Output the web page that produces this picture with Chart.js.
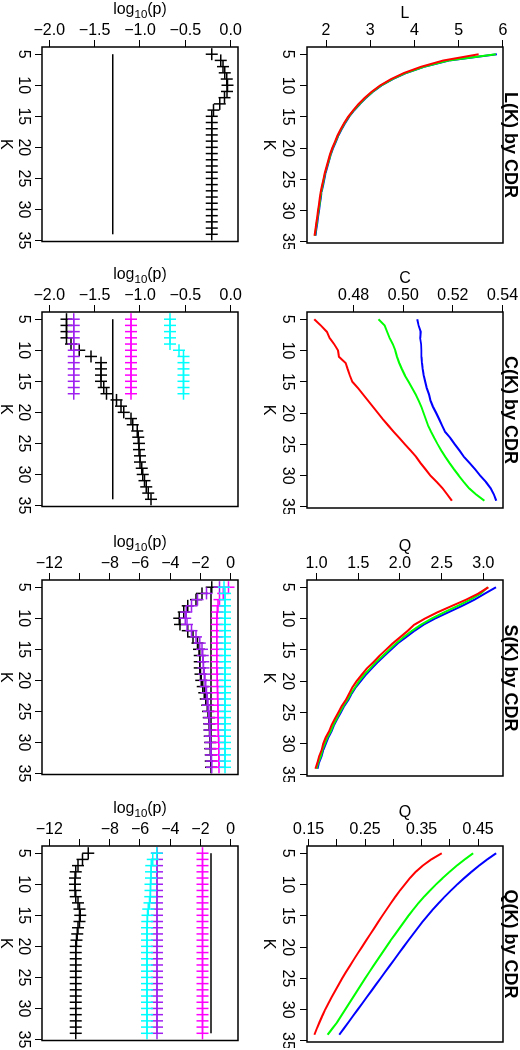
<!DOCTYPE html>
<html><head><meta charset="utf-8">
<script src="https://cdn.jsdelivr.net/npm/chart.js@4"></script>
<style>
html,body{margin:0;padding:0;background:#fff;overflow:hidden;width:520px;height:1050px;}
#fig{position:absolute;left:0;top:0;width:1050px;height:520px;transform-origin:0 0;transform:translate(520px,0) rotate(90deg);background:#fff;}
#fig canvas{position:absolute;}
</style></head><body><div id="fig"></div>
<script>
// ---------- data ----------
const K = [5,6,7,8,9,10,11,12,13,14,15,16,17,18,19,20,21,22,23,24,25,26,27,28,29,30,31,32,33,34];
const K_short = [5,6,7,8,9,10,11,12,13,14,15,16,17];
const kTicks = [5,10,15,20,25,30,35];
const kTickLabels = ['5','10','15','20','25','30','35'];
const threshold = -1.301;

// L(K)
const L_red   = [5.45,4.65,4.15,3.76,3.46,3.22,3.03,2.87,2.73,2.61,2.50,2.41,2.33,2.26,2.20,2.14,2.09,2.05,2.01,1.97,1.94,1.91,1.88,1.86,1.84,1.82,1.80,1.78,1.76,1.74];
const L_green = [5.84,4.76,4.21,3.80,3.49,3.24,3.05,2.89,2.75,2.62,2.51,2.42,2.34,2.27,2.21,2.15,2.10,2.06,2.02,1.98,1.95,1.92,1.89,1.87,1.85,1.83,1.81,1.79,1.77,1.75];
const L_blue  = [5.86,4.78,4.22,3.81,3.50,3.25,3.06,2.90,2.76,2.63,2.52,2.43,2.35,2.28,2.22,2.16,2.11,2.07,2.03,1.99,1.96,1.93,1.90,1.88,1.86,1.84,1.82,1.80,1.78,1.76];
const lTicks = [2,3,4,5,6];
const lTickLabels = ['2','3','4','5','6'];

// C(K)
const C_red   = [0.4641,0.4668,0.4692,0.4703,0.4722,0.4737,0.4741,0.4768,0.4776,0.4785,0.4795,0.4818,0.4838,0.4858,0.4878,0.4898,0.4918,0.4940,0.4962,0.4985,0.5007,0.5030,0.5052,0.5070,0.5090,0.5110,0.5135,0.5158,0.5177,0.5196];
const C_green = [0.4900,0.4925,0.4935,0.4945,0.4958,0.4968,0.4975,0.4984,0.4995,0.5007,0.5022,0.5036,0.5050,0.5062,0.5073,0.5082,0.5091,0.5100,0.5112,0.5125,0.5139,0.5154,0.5170,0.5187,0.5205,0.5224,0.5244,0.5265,0.5294,0.5327];
const C_blue  = [0.5056,0.5062,0.5070,0.5068,0.5072,0.5073,0.5074,0.5076,0.5079,0.5083,0.5089,0.5095,0.5104,0.5110,0.5120,0.5133,0.5145,0.5157,0.5169,0.5190,0.5208,0.5227,0.5245,0.5268,0.5290,0.5310,0.5333,0.5352,0.5365,0.5375];
const cTicks = [0.48,0.50,0.52,0.54];
const cTickLabels = ['0.48','0.50','0.52','0.54'];

// S(K)
const S_red   = [3.06,2.94,2.79,2.62,2.45,2.30,2.17,2.09,2.00,1.91,1.83,1.75,1.68,1.60,1.54,1.48,1.43,1.39,1.35,1.30,1.26,1.22,1.18,1.15,1.11,1.08,1.06,1.03,1.01,0.985];
const S_green = [3.05,2.97,2.84,2.69,2.53,2.38,2.25,2.14,2.04,1.95,1.87,1.79,1.71,1.64,1.57,1.51,1.46,1.41,1.37,1.32,1.28,1.24,1.20,1.17,1.13,1.10,1.07,1.05,1.02,1.00];
const S_blue  = [3.15,3.02,2.89,2.74,2.58,2.42,2.28,2.17,2.07,1.97,1.89,1.81,1.73,1.66,1.59,1.53,1.47,1.42,1.38,1.33,1.29,1.25,1.21,1.18,1.14,1.11,1.08,1.06,1.03,1.01];
const sTicks = [1.0,1.5,2.0,2.5,3.0];
const sTickLabels = ['1.0','1.5','2.0','2.5','3.0'];

// Q(K)
const Q_red   = [0.3854,0.3668,0.3515,0.3392,0.3290,0.3200,0.3112,0.3030,0.2952,0.2877,0.2803,0.2730,0.2658,0.2585,0.2513,0.2441,0.2369,0.2298,0.2228,0.2160,0.2093,0.2028,0.1966,0.1906,0.1848,0.1792,0.1740,0.1692,0.1645,0.1601];
const Q_green = [0.4412,0.4260,0.4120,0.3990,0.3868,0.3752,0.3642,0.3538,0.3440,0.3350,0.3265,0.3185,0.3105,0.3025,0.2945,0.2870,0.2795,0.2720,0.2645,0.2572,0.2500,0.2428,0.2357,0.2286,0.2215,0.2145,0.2075,0.2005,0.1920,0.1835];
const Q_blue  = [0.4818,0.4658,0.4512,0.4378,0.4250,0.4128,0.4012,0.3902,0.3797,0.3697,0.3602,0.3512,0.3425,0.3341,0.3258,0.3176,0.3095,0.3014,0.2933,0.2852,0.2771,0.2690,0.2609,0.2528,0.2447,0.2366,0.2285,0.2204,0.2123,0.2042];
const qTicks = [0.15,0.20,0.25,0.30,0.35,0.40,0.45];
const qTickLabels = ['0.15','','0.25','','0.35','','0.45'];

// log10(p) panels
const pTicksA = [-2.0,-1.5,-1.0,-0.5,0.0];
const pTickLabelsA = ['\u22122.0','\u22121.5','\u22121.0','\u22120.5','0.0'];
const pTicksB = [-12,-10,-8,-6,-4,-2,0];
const pTickLabelsB = ['\u221212','','\u22128','\u22126','\u22124','\u22122','0'];

const pL_black = [-0.21,-0.11,-0.085,-0.065,-0.045,-0.035,-0.04,-0.07,-0.12,-0.19,-0.21,-0.21,-0.21,-0.21,-0.21,-0.21,-0.21,-0.21,-0.21,-0.21,-0.21,-0.21,-0.21,-0.21,-0.21,-0.21,-0.21,-0.21,-0.21,-0.21];

const pC_black   = [-1.81,-1.81,-1.81,-1.81,-1.76,-1.67,-1.54,-1.43,-1.43,-1.43,-1.43,-1.40,-1.37,-1.26,-1.21,-1.18,-1.10,-1.08,-1.03,-1.02,-1.01,-1.01,-1.00,-1.00,-0.98,-0.97,-0.95,-0.93,-0.91,-0.88];
const pC_purple  = [-1.73,-1.73,-1.73,-1.73,-1.73,-1.73,-1.73,-1.73,-1.73,-1.73,-1.73,-1.73,-1.73];
const pC_magenta = [-1.10,-1.10,-1.10,-1.10,-1.10,-1.10,-1.10,-1.10,-1.10,-1.10,-1.10,-1.10,-1.10];
const pC_cyan    = [-0.67,-0.67,-0.67,-0.67,-0.67,-0.57,-0.52,-0.52,-0.52,-0.52,-0.52,-0.52,-0.52];

const pS_black   = [-1.25,-1.90,-2.30,-2.85,-3.10,-3.40,-3.35,-2.85,-2.50,-2.20,-2.10,-2.05,-2.05,-2.05,-2.00,-1.95,-1.85,-1.75,-1.65,-1.55,-1.50,-1.45,-1.42,-1.40,-1.38,-1.36,-1.35,-1.33,-1.32,-1.31];
const pS_purple  = [-0.75,-1.60,-2.20,-2.60,-2.95,-3.00,-2.90,-2.60,-2.30,-2.05,-1.90,-1.85,-1.82,-1.80,-1.75,-1.70,-1.65,-1.60,-1.55,-1.50,-1.45,-1.42,-1.40,-1.38,-1.36,-1.34,-1.32,-1.30,-1.28,-1.26];
const pS_magenta = [-0.15,-0.50,-0.75,-0.85,-0.90,-0.92,-0.92,-0.92,-0.92,-0.92,-0.92,-0.92,-0.92,-0.92,-0.90,-0.90,-0.88,-0.88,-0.86,-0.86,-0.85,-0.84,-0.83,-0.82,-0.81,-0.80,-0.80,-0.79,-0.78,-0.77];
const pS_cyan    = [-0.45,-0.38,-0.38,-0.38,-0.38,-0.38,-0.38,-0.38,-0.38,-0.38,-0.38,-0.38,-0.38,-0.38,-0.38,-0.38,-0.38,-0.38,-0.38,-0.38,-0.38,-0.38,-0.38,-0.38,-0.38,-0.38,-0.38,-0.38,-0.38,-0.38];

const pQ_black   = [-9.43,-9.80,-10.10,-10.25,-10.30,-10.30,-10.30,-10.25,-10.10,-10.00,-9.95,-10.00,-10.10,-10.15,-10.20,-10.25,-10.25,-10.25,-10.25,-10.25,-10.25,-10.25,-10.25,-10.25,-10.25,-10.25,-10.25,-10.25,-10.25,-10.25];
const pQ_purple  = [-4.87,-4.87,-4.87,-4.87,-4.87,-4.87,-4.87,-4.87,-4.87,-4.87,-4.87,-4.87,-4.87,-4.87,-4.87,-4.87,-4.87,-4.87,-4.87,-4.87,-4.87,-4.87,-4.87,-4.87,-4.87,-4.87,-4.87,-4.87,-4.87,-4.87];
const pQ_magenta = [-1.86,-1.86,-1.86,-1.86,-1.86,-1.86,-1.86,-1.86,-1.86,-1.86,-1.86,-1.86,-1.86,-1.86,-1.86,-1.86,-1.86,-1.86,-1.86,-1.86,-1.86,-1.86,-1.86,-1.86,-1.86,-1.86,-1.86,-1.86,-1.86,-1.86];
const pQ_cyan    = [-4.90,-5.15,-5.25,-5.28,-5.28,-5.30,-5.30,-5.32,-5.38,-5.45,-5.50,-5.52,-5.53,-5.53,-5.53,-5.53,-5.53,-5.53,-5.53,-5.53,-5.53,-5.53,-5.53,-5.53,-5.53,-5.53,-5.53,-5.53,-5.53,-5.53];

// ---------- drawing ----------
const FONT = '"Liberation Sans", Arial, Helvetica, sans-serif';
const TICKFONT = '16px ' + FONT, LABFONT = '16px ' + FONT, SUBFONT = '11.5px ' + FONT;
const RED='#FF0000', GREEN='#00FF00', BLUE='#0000FF', BLACK='#000000', PURPLE='#A020F0', MAGENTA='#FF00FF', CYAN='#00FFFF';
const fig = document.getElementById('fig');
const BOX = 196, PADL = 60, PADT = 17, PADR = 6, XAXH = 45;

function pts(ks, vs){ return vs.map((v,i)=>({x:ks[i], y:v})); }
function lineDS(ks, vs, color){ return {data:pts(ks,vs), showLine:true, borderColor:color, borderWidth:2, pointRadius:0, fill:false, tension:0}; }
function crossDS(ks, vs, color){ return {data:pts(ks,vs), showLine:false, pointStyle:'cross', pointRadius:6, pointBorderWidth:1.5, borderColor:color, backgroundColor:color}; }
function threshDS(){ return {data:[{x:K[0],y:threshold},{x:K[K.length-1],y:threshold}], showLine:true, borderColor:BLACK, borderWidth:1.5, pointRadius:0}; }

const textPlugin = {
  id:'rtext',
  afterDraw(chart){
    const ctx = chart.ctx, ca = chart.chartArea, xs = chart.scales.x, ys = chart.scales.y;
    const P = chart.options.plugins.rtext;
    ctx.save();
    ctx.fillStyle = '#000'; ctx.strokeStyle = '#000';
    ctx.lineWidth = 1.5;
    ctx.strokeRect(ca.left, ca.top, ca.right-ca.left, ca.bottom-ca.top);
    ctx.font = TICKFONT; ctx.textAlign='center'; ctx.textBaseline='alphabetic';
    kTicks.forEach((v,i)=>{ ctx.fillText(kTickLabels[i], xs.getPixelForValue(v), ca.bottom + P.kLab); });
    ctx.font = LABFONT;
    ctx.fillText('K', (ca.left+ca.right)/2, ca.bottom + P.kTitle);
    ctx.font = TICKFONT;
    P.yTicks.forEach((v,i)=>{
      const lab = P.yLabels[i]; if(!lab) return;
      ctx.save(); ctx.translate(ca.left - 12, ys.getPixelForValue(v)); ctx.rotate(-Math.PI/2);
      ctx.fillText(lab, 0, 0); ctx.restore();
    });
    const cy = (ca.top+ca.bottom)/2;
    ctx.save();
    if (P.yTitle === 'log10(p)') {
      ctx.translate(ca.left - 33, cy); ctx.rotate(-Math.PI/2);
      ctx.font = LABFONT; const w1 = ctx.measureText('log').width, w3 = ctx.measureText('(p)').width;
      ctx.font = SUBFONT; const w2 = ctx.measureText('10').width;
      let x0 = -(w1+w2+w3)/2; ctx.textAlign='left';
      ctx.font = LABFONT; ctx.fillText('log', x0, 0); x0 += w1;
      ctx.font = SUBFONT; ctx.fillText('10', x0, 4); x0 += w2;
      ctx.font = LABFONT; ctx.fillText('(p)', x0, 0);
    } else {
      ctx.translate(ca.left - 29.5, cy); ctx.rotate(-Math.PI/2);
      ctx.font = LABFONT; ctx.fillText(P.yTitle, 0, 0);
    }
    ctx.restore();
    if (P.title) {
      ctx.font = 'bold 18px ' + FONT; ctx.textAlign='center';
      ctx.fillText(P.title, (ca.left+ca.right)/2, ca.top - 2.5);
    }
    ctx.restore();
  }
};

function panel(boxLeft, boxTop, yMin, yMax, yTicks, yLabels, yTitle, title, datasets, off){
  const cv = document.createElement('canvas');
  const W = PADL + BOX + PADR, H = PADT + BOX + XAXH;
  cv.width = W; cv.height = H;
  cv.style.left = (boxLeft - PADL) + 'px'; cv.style.top = (boxTop - PADT) + 'px';
  cv.style.width = W + 'px'; cv.style.height = H + 'px';
  fig.appendChild(cv);
  const tickGrid = {display:true, drawOnChartArea:false, drawTicks:true, tickLength:7, color:'#000', tickColor:'#000', lineWidth:1};
  new Chart(cv.getContext('2d'), {
    type:'scatter',
    data:{datasets},
    options:{
      responsive:false, animation:false, devicePixelRatio:1,
      layout:{padding:{left:0, top:PADT, right:PADR, bottom:0}},
      plugins:{legend:{display:false}, tooltip:{enabled:false},
        rtext:{yTicks, yLabels, yTitle, title, kLab:off.kLab, kTitle:off.kTitle}},
      scales:{
        x:{type:'linear', position:'bottom', min:3.84, max:35.16,
           afterBuildTicks:s=>{ s.ticks = kTicks.map(v=>({value:v})); },
           afterFit:s=>{ s.height = XAXH; s.paddingLeft=0; s.paddingRight=0; s.paddingTop=0; s.paddingBottom=0; },
           ticks:{display:false}, grid:tickGrid, border:{display:false}},
        y:{type:'linear', position:'left', min:yMin, max:yMax,
           afterBuildTicks:s=>{ s.ticks = yTicks.map(v=>({value:v})); },
           afterFit:s=>{ s.width = PADL; s.paddingLeft=0; s.paddingRight=0; s.paddingTop=0; s.paddingBottom=0; },
           ticks:{display:false}, grid:tickGrid, border:{display:false}}
      }
    },
    plugins:[textPlugin]
  });
}

const colLeft = [47, 312, 580, 846];
const topRow = 17, botRow = 282;
const offTop = {kLab:24, kTitle:42.5}, offBot = {kLab:23, kTitle:41};

panel(colLeft[0], topRow, 1.57, 6.0, lTicks, lTickLabels, 'L', 'L(K) by CDR',
  [lineDS(K,L_red,RED), lineDS(K,L_green,GREEN), lineDS(K,L_blue,BLUE)], offTop);
panel(colLeft[1], topRow, 0.4612, 0.5402, cTicks, cTickLabels, 'C', 'C(K) by CDR',
  [lineDS(K,C_red,RED), lineDS(K,C_green,GREEN), lineDS(K,C_blue,BLUE)], offTop);
panel(colLeft[2], topRow, 0.885, 3.235, sTicks, sTickLabels, 'Q', 'S(K) by CDR',
  [lineDS(K,S_red,RED), lineDS(K,S_green,GREEN), lineDS(K,S_blue,BLUE)], offTop);
panel(colLeft[3], topRow, 0.147, 0.494, qTicks, qTickLabels, 'Q', 'Q(K) by CDR',
  [lineDS(K,Q_red,RED), lineDS(K,Q_green,GREEN), lineDS(K,Q_blue,BLUE)], offTop);

panel(colLeft[0], botRow, -2.08, 0.08, pTicksA, pTickLabelsA, 'log10(p)', null,
  [crossDS(K,pL_black,BLACK), threshDS()], offBot);
panel(colLeft[1], botRow, -2.08, 0.08, pTicksA, pTickLabelsA, 'log10(p)', null,
  [crossDS(K_short,pC_cyan,CYAN), crossDS(K_short,pC_magenta,MAGENTA), crossDS(K_short,pC_purple,PURPLE), crossDS(K,pC_black,BLACK), threshDS()], offBot);
panel(colLeft[2], botRow, -12.48, 0.48, pTicksB, pTickLabelsB, 'log10(p)', null,
  [crossDS(K,pS_cyan,CYAN), crossDS(K,pS_magenta,MAGENTA), crossDS(K,pS_purple,PURPLE), crossDS(K,pS_black,BLACK), threshDS()], offBot);
panel(colLeft[3], botRow, -12.48, 0.48, pTicksB, pTickLabelsB, 'log10(p)', null,
  [crossDS(K,pQ_cyan,CYAN), crossDS(K,pQ_magenta,MAGENTA), crossDS(K,pQ_purple,PURPLE), crossDS(K,pQ_black,BLACK), threshDS()], offBot);
</script>
</body></html>
